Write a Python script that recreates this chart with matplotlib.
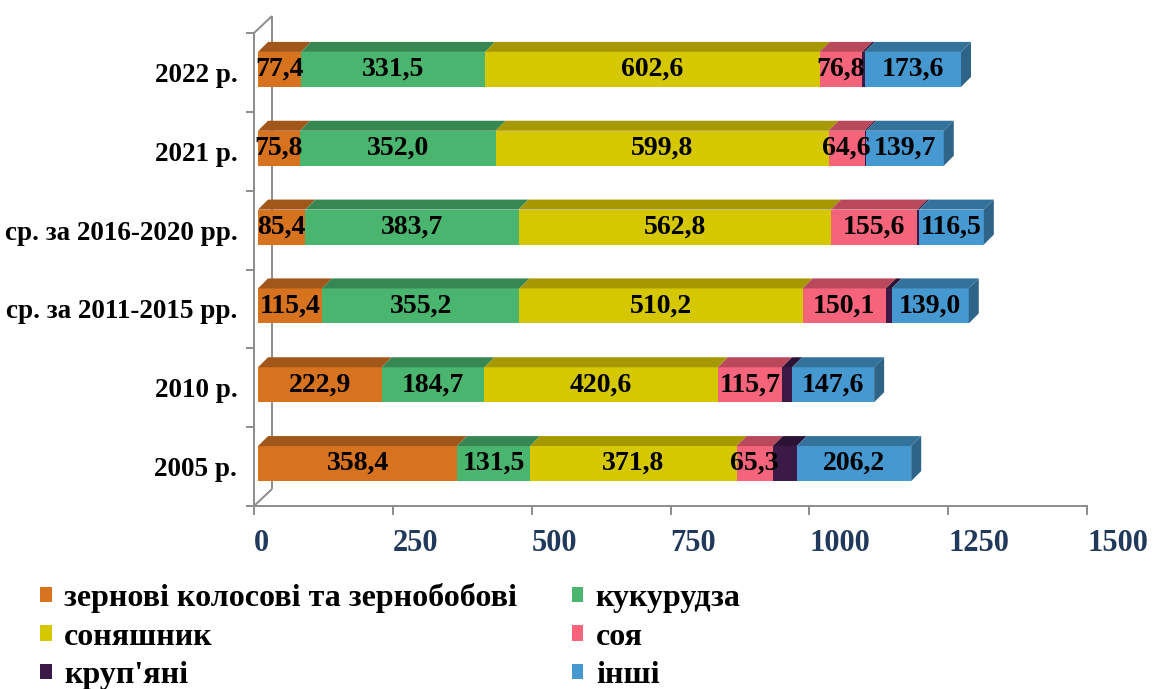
import numpy as np
import matplotlib
matplotlib.use("Agg")
import matplotlib.pyplot as plt
from matplotlib.patches import Rectangle, Polygon, Patch
from matplotlib.font_manager import FontProperties

# ------------------- Данные -------------------
categories = ["2005 р.", "2010 р.", "ср. за 2011-2015 рр.",
              "ср. за 2016-2020 рр.", "2021 р.", "2022 р."]

series_names = ["зернові колосові та зернобобові", "кукурудза", "соняшник",
                "соя", "круп'яні", "інші"]

zernovi = [358.4, 222.9, 115.4, 85.4, 75.8, 77.4]
kukurudza = [131.5, 184.7, 355.2, 383.7, 352.0, 331.5]
sonyashnyk = [371.8, 420.6, 510.2, 562.8, 599.8, 602.6]
soya = [65.3, 115.7, 150.1, 155.6, 64.6, 76.8]
krupyani = [43.0, 18.0, 10.0, 3.0, 3.0, 4.0]      # без подписей
inshi = [206.2, 147.6, 139.0, 116.5, 139.7, 173.6]

show_labels = [True, True, True, True, False, True]
x_ticks = [0, 250, 500, 750, 1000, 1250, 1500]

# цвета: лицевая грань, верхняя грань, боковая грань
front_colors = ["#D7721F", "#4AB56E", "#D6C800", "#F5647B", "#3C1A48", "#4699D0"]
top_colors = ["#A1561A", "#378752", "#A59800", "#B9485A", "#2C1336", "#33739B"]
side_colors = ["#8E4B16", "#2F7447", "#8C8100", "#9E3D4D", "#24102D", "#2D6488"]

GRAY = "#8C8C8C"
TICK_COLOR = "#213A5C"
SERIF = ['Liberation Serif', 'DejaVu Serif']
plt.rcParams['font.family'] = SERIF

# ------------------- Геометрия -------------------
W, H = 1154, 689
fig = plt.figure(figsize=(W / 100, H / 100), dpi=100)
ax = fig.add_axes([254 / W, (H - 506) / H, (1087 - 254) / W, (506 - 33) / H])
ax.set_xlim(0, 1500)
ax.set_ylim(-0.5, 5.5)

ux = 1500 / (1087 - 254)     # единиц по X на пиксель
uy = 6.0 / (506 - 33)        # единиц по Y на пиксель

bar_h = 35 * uy
depth_x, depth_y = 10 * ux, 10 * uy
shift_x, shift_y = 4 * ux, 3 * uy
wall_x, wall_y = 18 * ux, 17 * uy

# ------------------- Стенка и пол -------------------
line_kw = dict(color=GRAY, lw=1.4, clip_on=False, zorder=1, solid_capstyle='butt')
ax.plot([wall_x, wall_x], [-0.5 + wall_y, 5.5 + wall_y], **line_kw)
ax.plot([0, wall_x], [-0.5, -0.5 + wall_y], **line_kw)
ax.plot([0, wall_x], [5.5, 5.5 + wall_y], **line_kw)

for side in ['top', 'right']:
    ax.spines[side].set_visible(False)
for side in ['left', 'bottom']:
    ax.spines[side].set_color(GRAY)
    ax.spines[side].set_linewidth(1.4)

ax.set_xticks(x_ticks)
ax.set_xticklabels([str(t) for t in x_ticks], ha='left',
                   fontsize=22, fontweight='bold', color=TICK_COLOR)
ax.tick_params(axis='x', length=6.5, width=1.4, color=GRAY, pad=10)

ax.set_yticks(range(len(categories)))
ax.set_yticklabels(categories, fontsize=19.5, fontweight='bold', color='black')
ax.tick_params(axis='y', which='major', length=0, pad=12)
ax.set_yticks(np.arange(-0.5, 6, 1.0), minor=True)
ax.tick_params(axis='y', which='minor', length=5.8, width=1.4, color=GRAY)

# ------------------- Объёмные столбцы -------------------
data = [zernovi, kukurudza, sonyashnyk, soya, krupyani, inshi]
values = np.array(data)
lefts = np.vstack([np.zeros(len(categories)), np.cumsum(values, axis=0)[:-1]])

for i in range(len(categories)):
    y0 = i + shift_y - bar_h / 2
    for k in range(len(data)):
        v = values[k, i]
        x0 = lefts[k, i] + shift_x
        ax.add_patch(Rectangle((x0, y0), v, bar_h, facecolor=front_colors[k],
                               edgecolor='none', zorder=3))
        ax.add_patch(Polygon([(x0, y0 + bar_h), (x0 + v, y0 + bar_h),
                              (x0 + v + depth_x, y0 + bar_h + depth_y),
                              (x0 + depth_x, y0 + bar_h + depth_y)],
                             closed=True, facecolor=top_colors[k],
                             edgecolor='none', zorder=3))
        if show_labels[k]:
            ax.text(x0 + v / 2, i + shift_y, f"{v:.1f}".replace('.', ','),
                    ha='center', va='center', fontsize=20, fontweight='bold',
                    color='black', zorder=5)
    # правая грань последнего сегмента
    x_end = lefts[-1, i] + values[-1, i] + shift_x
    ax.add_patch(Polygon([(x_end, y0), (x_end + depth_x, y0 + depth_y),
                          (x_end + depth_x, y0 + bar_h + depth_y),
                          (x_end, y0 + bar_h)],
                         closed=True, facecolor=side_colors[-1],
                         edgecolor='none', zorder=3))

# ------------------- Легенда -------------------
handles = [Patch(facecolor=c, edgecolor='none') for c in front_colors]
order = [0, 2, 4, 1, 3, 5]
legend_font = FontProperties(family='Liberation Serif', weight='bold', size=23)
fig.legend([handles[j] for j in order], [series_names[j] for j in order],
           ncol=2, loc='upper left', bbox_to_anchor=(40 / W, 1 - 583 / H),
           frameon=False, borderaxespad=0, borderpad=0, prop=legend_font,
           handlelength=0.36, handleheight=0.36, handletextpad=0.4,
           columnspacing=1.7, labelspacing=0.3)

fig.savefig("out.png", dpi=100)
